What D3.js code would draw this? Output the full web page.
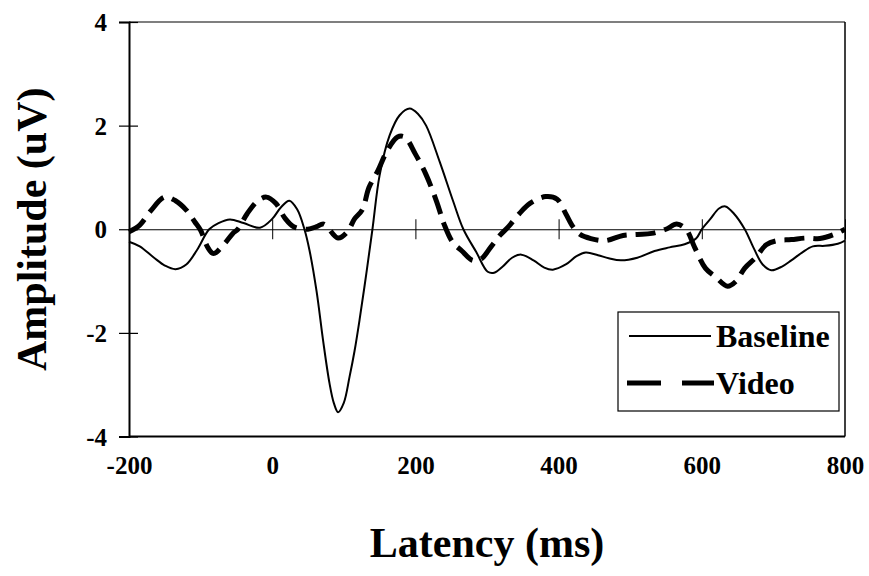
<!DOCTYPE html>
<html>
<head>
<meta charset="utf-8">
<script src="https://cdn.jsdelivr.net/npm/d3@7"></script>
<style>
  body { margin: 0; background: #fff; }
  text { font-family: "Liberation Serif", "Times New Roman", serif; font-weight: bold; fill: #000; }
</style>
</head>
<body>
<div id="chart"></div>
<script>
// latency (ms) / amplitude (uV)
const baseT = [-200, -185, -165, -150, -135, -120, -105, -88, -75, -59, -40, -17, 0, 12, 24, 35, 45, 52, 62, 71, 80, 86, 92, 100, 108, 115, 122, 131, 140, 150, 164, 178, 192, 204, 215, 234, 253, 267, 285, 301, 310, 322, 335, 348, 365, 380, 392, 410, 425, 438, 455, 470, 487, 510, 534, 555, 576, 592, 600, 612, 624, 633, 645, 660, 672, 685, 697, 712, 725, 740, 755, 772, 790, 800];
const baseV = [-0.24, -0.33, -0.55, -0.7, -0.77, -0.68, -0.4, 0.0, 0.12, 0.19, 0.12, 0.03, 0.2, 0.42, 0.55, 0.38, 0.0, -0.4, -1.2, -2.14, -2.97, -3.35, -3.53, -3.35, -2.85, -2.35, -1.75, -0.9, 0.0, 1.04, 1.81, 2.2, 2.33, 2.22, 2.0, 1.3, 0.53, 0.0, -0.44, -0.82, -0.84, -0.72, -0.55, -0.49, -0.6, -0.74, -0.78, -0.68, -0.52, -0.45, -0.5, -0.56, -0.6, -0.55, -0.42, -0.35, -0.29, -0.18, 0.0, 0.2, 0.4, 0.44, 0.3, 0.0, -0.35, -0.68, -0.79, -0.72, -0.6, -0.45, -0.33, -0.32, -0.28, -0.22];

const videoT = [-200, -185, -170, -150, -135, -120, -108, -100, -90, -82, -68, -55, -48, -35, -20, -8, 5, 18, 30, 50, 62, 72, 92, 105, 115, 126, 135, 148, 160, 175, 185, 200, 215, 230, 240, 252, 265, 280, 292, 305, 318, 330, 345, 360, 382, 398, 410, 420, 430, 445, 465, 490, 510, 530, 550, 565, 578, 590, 605, 620, 636, 648, 660, 675, 690, 705, 725, 745, 765, 785, 800];
const videoV = [-0.05, 0.08, 0.35, 0.62, 0.55, 0.37, 0.14, -0.02, -0.35, -0.47, -0.3, -0.08, 0.0, 0.3, 0.55, 0.62, 0.5, 0.21, 0.05, 0.0, 0.05, 0.1, -0.17, -0.05, 0.2, 0.38, 0.8, 1.14, 1.5, 1.78, 1.78, 1.45, 1.05, 0.52, 0.1, -0.25, -0.42, -0.6, -0.57, -0.35, -0.12, 0.05, 0.3, 0.5, 0.63, 0.58, 0.3, 0.05, -0.1, -0.18, -0.22, -0.12, -0.1, -0.08, 0.0, 0.1, 0.0, -0.35, -0.75, -0.93, -1.1, -1.0, -0.75, -0.55, -0.3, -0.22, -0.2, -0.17, -0.18, -0.1, 0.0];

const xTicks = [-200, 0, 200, 400, 600, 800];
const yTicks = [-4, -2, 0, 2, 4];
const seriesNames = ["Baseline", "Video"];

const width = 869, height = 576;
const svg = d3.select("#chart").append("svg")
  .attr("width", width)
  .attr("height", height)
  .attr("viewBox", `0 0 ${width} ${height}`);

const x = d3.scaleLinear().domain([-200, 800]).range([129, 845]);
const y = d3.scaleLinear().domain([-4, 4]).range([436.5, 22]);

// plain hyphen minus like the original, not the unicode one
const fmt = d => String(d);

// frame: top and right edges thin, left / bottom heavier
svg.append("line").attr("x1", x(-200)).attr("x2", x(800)).attr("y1", y(4)).attr("y2", y(4))
  .attr("stroke", "#000").attr("stroke-width", 1.2);
svg.append("line").attr("x1", x(800)).attr("x2", x(800)).attr("y1", y(4)).attr("y2", y(-4))
  .attr("stroke", "#000").attr("stroke-width", 1.5);
svg.append("line").attr("x1", x(-200)).attr("x2", x(800)).attr("y1", y(-4)).attr("y2", y(-4))
  .attr("stroke", "#000").attr("stroke-width", 2);

// y axis with ticks crossing the line
const yAxis = svg.append("g")
  .attr("transform", `translate(${x(-200)},0)`)
  .call(d3.axisLeft(y).tickValues(yTicks).tickSize(10).tickFormat(fmt));
yAxis.select(".domain").attr("stroke-width", 2);
yAxis.selectAll(".tick line").attr("x1", -10).attr("x2", 9).attr("stroke-width", 1.2);
yAxis.selectAll(".tick text")
  .attr("x", -22)
  .attr("dy", "0.34em")
  .style("font-size", "25px")
  .style("font-family", "'Liberation Serif', serif")
  .style("font-weight", "bold");

// zero line acting as x axis, ticks crossing it
const zeroAxis = svg.append("g")
  .attr("transform", `translate(0,${y(0)})`)
  .call(d3.axisBottom(x).tickValues(xTicks).tickSize(10).tickFormat(""));
zeroAxis.select(".domain").attr("stroke-width", 1);
zeroAxis.selectAll(".tick line").attr("y1", -10).attr("y2", 10).attr("stroke-width", 1);

// x tick labels sit under the frame
const xLab = svg.append("g")
  .attr("transform", `translate(0,${y(-4)})`)
  .call(d3.axisBottom(x).tickValues(xTicks).tickSize(0).tickPadding(20).tickFormat(fmt));
xLab.select(".domain").remove();
xLab.selectAll(".tick text")
  .style("font-size", "25px")
  .style("font-family", "'Liberation Serif', serif")
  .style("font-weight", "bold");

const line = d3.line()
  .x(d => x(d[0]))
  .y(d => y(d[1]))
  .curve(d3.curveCatmullRom.alpha(0.5));

const baseData = baseT.map((t, i) => [t, baseV[i]]);
const videoData = videoT.map((t, i) => [t, videoV[i]]);

svg.append("path")
  .datum(videoData)
  .attr("d", line)
  .attr("fill", "none")
  .attr("stroke", "#000")
  .attr("stroke-width", 5)
  .attr("stroke-dasharray", "20,9");

svg.append("path")
  .datum(baseData)
  .attr("d", line)
  .attr("fill", "none")
  .attr("stroke", "#000")
  .attr("stroke-width", 2);

// legend
const lg = svg.append("g");
lg.append("rect")
  .attr("x", 618).attr("y", 312).attr("width", 221).attr("height", 99)
  .attr("fill", "#fff").attr("stroke", "#000").attr("stroke-width", 1.2);
lg.append("line").attr("x1", 629).attr("x2", 711).attr("y1", 336).attr("y2", 336)
  .attr("stroke", "#000").attr("stroke-width", 2);
lg.append("line").attr("x1", 627).attr("x2", 714).attr("y1", 383).attr("y2", 383)
  .attr("stroke", "#000").attr("stroke-width", 5).attr("stroke-dasharray", "34,21");
lg.selectAll("text.lab")
  .data(seriesNames)
  .enter()
  .append("text")
  .attr("class", "lab")
  .attr("x", 716)
  .attr("y", (d, i) => 347 + i * 47)
  .style("font-size", "32px")
  .text(d => d);

// axis titles
svg.append("text")
  .attr("x", x(300))
  .attr("y", 557)
  .attr("text-anchor", "middle")
  .style("font-size", "42px")
  .text("Latency (ms)");

svg.append("text")
  .attr("transform", `translate(46,${y(0)}) rotate(-90)`)
  .attr("text-anchor", "middle")
  .style("font-size", "42px")
  .text("Amplitude (uV)");
</script>
</body>
</html>
